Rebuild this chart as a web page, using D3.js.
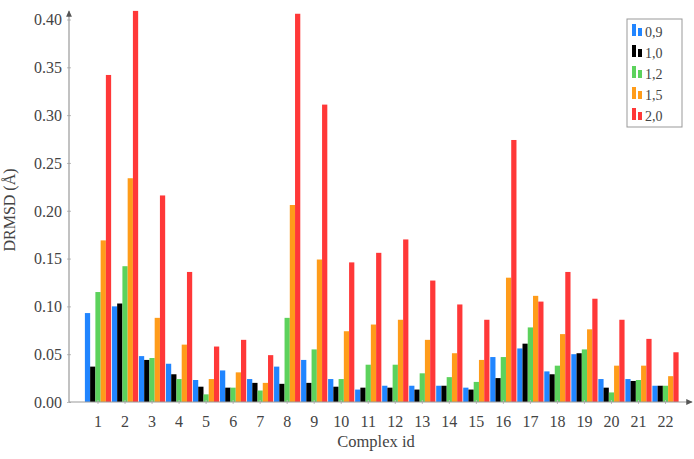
<!DOCTYPE html>
<html>
<head>
<meta charset="utf-8">
<script src="https://cdn.jsdelivr.net/npm/d3@7"></script>
<style>
  body { margin: 0; background: #fff; }
  svg text { font-family: "Liberation Serif", serif; fill: #444; }
</style>
</head>
<body>
<script>
const width = 694;
const height = 459;

// complex ids
const complexes = d3.range(1, 23).map(String);
const seriesNames = ['0,9', '1,0', '1,2', '1,5', '2,0'];
const seriesColors = ['#2185ff', '#000000', '#5cd25c', '#ff9c1a', '#ff3838'];

// DRMSD values, one array per series
const s09 = [0.093, 0.100, 0.048, 0.040, 0.023, 0.033, 0.024, 0.037, 0.044, 0.024, 0.013,
             0.017, 0.017, 0.017, 0.015, 0.047, 0.056, 0.032, 0.050, 0.024, 0.024, 0.017];
const s10 = [0.037, 0.103, 0.044, 0.029, 0.016, 0.015, 0.020, 0.019, 0.020, 0.016, 0.015,
             0.015, 0.013, 0.017, 0.013, 0.025, 0.061, 0.029, 0.051, 0.015, 0.022, 0.017];
const s12 = [0.115, 0.142, 0.046, 0.024, 0.008, 0.015, 0.012, 0.088, 0.055, 0.024, 0.039,
             0.039, 0.030, 0.026, 0.021, 0.047, 0.078, 0.038, 0.055, 0.010, 0.023, 0.017];
const s15 = [0.169, 0.234, 0.088, 0.060, 0.024, 0.031, 0.020, 0.206, 0.149, 0.074, 0.081,
             0.086, 0.065, 0.051, 0.044, 0.130, 0.111, 0.071, 0.076, 0.038, 0.038, 0.027];
const s20 = [0.342, 0.409, 0.216, 0.136, 0.058, 0.065, 0.049, 0.406, 0.311, 0.146, 0.156,
             0.170, 0.127, 0.102, 0.086, 0.274, 0.105, 0.136, 0.108, 0.086, 0.066, 0.052];
const series = [s09, s10, s12, s15, s20];

const yTicks = [0, 0.05, 0.10, 0.15, 0.20, 0.25, 0.30, 0.35, 0.40];

const svg = d3.select('body')
              .append('svg')
              .attr('width', width)
              .attr('height', height);

const axisLeft = 69;
const axisBottom = 402;
const serif = '"Liberation Serif", serif';

const x = d3.scaleBand()
            .domain(complexes)
            .range([84.5, 679]);

const xInner = d3.scaleBand()
                 .domain(seriesNames)
                 .range([0, x.bandwidth()])
                 .paddingInner(0)
                 .paddingOuter(0.075);

const y = d3.scaleLinear()
            .domain([0, 0.4])
            .range([axisBottom, 19.5]);

// bars
const groups = svg.selectAll('g.series')
  .data(series)
  .enter().append('g')
  .attr('class', 'series')
  .attr('fill', (d, i) => seriesColors[i]);

groups.each(function(vals, si) {
  d3.select(this).selectAll('rect')
    .data(vals)
    .enter().append('rect')
    .attr('x', (d, i) => x(complexes[i]) + xInner(seriesNames[si]))
    .attr('width', xInner.bandwidth())
    .attr('y', d => y(d))
    .attr('height', d => axisBottom - y(d));
});

// y axis
const yAxis = svg.append('g')
  .attr('transform', `translate(${axisLeft},0)`)
  .attr('font-family', serif)
  .call(d3.axisLeft(y).tickValues(yTicks).tickFormat(d3.format('.2f')).tickSize(2));
yAxis.select('.domain').remove();
yAxis.selectAll('.tick line').attr('stroke', '#bbb').attr('x2', 2).attr('x1', -2);
yAxis.selectAll('.tick text').attr('font-size', 16).attr('x', -7).attr('dy', '0.33em');

// x axis
const xAxis = svg.append('g')
  .attr('transform', `translate(0,${axisBottom})`)
  .attr('font-family', serif)
  .call(d3.axisBottom(x).tickSize(2));
xAxis.select('.domain').remove();
xAxis.selectAll('.tick line').attr('stroke', '#bbb').attr('y1', -2).attr('y2', 2);
xAxis.selectAll('.tick text').attr('font-size', 16).attr('y', 14);

// axis lines with arrows
const defs = svg.append('defs');
defs.append('marker')
  .attr('id', 'arrow')
  .attr('viewBox', '0 0 10 10')
  .attr('refX', 8).attr('refY', 5)
  .attr('markerWidth', 6).attr('markerHeight', 6)
  .attr('orient', 'auto')
  .append('path')
  .attr('d', 'M0,1 L9,5 L0,9 Z')
  .attr('fill', '#555');

svg.append('line')
  .attr('x1', axisLeft).attr('y1', axisBottom)
  .attr('x2', axisLeft).attr('y2', 11)
  .attr('stroke', '#999').attr('stroke-width', 1.2)
  .attr('marker-end', 'url(#arrow)');
svg.append('line')
  .attr('x1', axisLeft).attr('y1', axisBottom)
  .attr('x2', 692).attr('y2', axisBottom)
  .attr('stroke', '#999').attr('stroke-width', 1.2)
  .attr('marker-end', 'url(#arrow)');

// axis titles
svg.append('text')
  .attr('x', 376).attr('y', 447)
  .attr('text-anchor', 'middle')
  .attr('font-size', 16.5)
  .text('Complex id');

svg.append('text')
  .attr('transform', 'translate(15,210) rotate(-90)')
  .attr('text-anchor', 'middle')
  .attr('font-size', 16)
  .text('DRMSD (Å)');

// legend
const legend = svg.append('g').attr('transform', 'translate(627,19)');
legend.append('rect')
  .attr('width', 55).attr('height', 108)
  .attr('fill', '#fff').attr('stroke', '#999').attr('stroke-width', 1);

const items = legend.selectAll('g.item')
  .data(seriesNames)
  .enter().append('g')
  .attr('class', 'item')
  .attr('transform', (d, i) => `translate(0,${13 + i * 21})`);

items.append('rect')
  .attr('x', 5).attr('y', -8).attr('width', 4).attr('height', 12)
  .attr('fill', (d, i) => seriesColors[i]);
items.append('rect')
  .attr('x', 11).attr('y', -4).attr('width', 4).attr('height', 8)
  .attr('fill', (d, i) => seriesColors[i]);
items.append('text')
  .attr('x', 18).attr('y', 5)
  .attr('font-size', 14)
  .text(d => d);
</script>
</body>
</html>
